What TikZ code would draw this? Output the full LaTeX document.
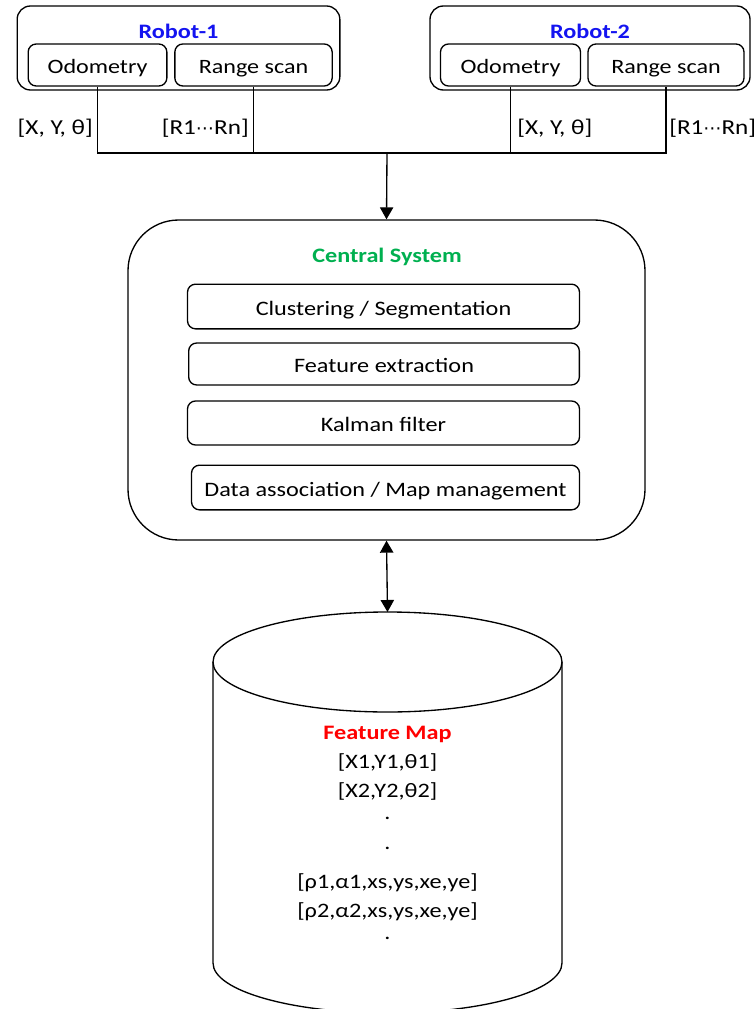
\documentclass[tikz,border=0pt]{standalone}
\usepackage{fontspec}
\setmainfont[FakeStretch=1.18]{Carlito}
\newfontfamily\dotsfont[FakeStretch=1.0,Scale=0.85]{DejaVu Sans}
\usetikzlibrary{arrows.meta}
\definecolor{robotblue}{RGB}{20,20,240}
\definecolor{sysgreen}{RGB}{0,176,80}
\newcommand{\cdotsym}{{\dotsfont ⋯}}
\tikzset{
  frame/.style={draw, line width=1pt, rounded corners=10pt, inner sep=0pt},
  unit/.style={draw, line width=1pt, rounded corners=6pt, inner sep=0pt,
               text height=13.5pt, text depth=0pt,
               minimum height=31.5pt, font=\fontsize{15.3}{17}\selectfont},
  stage/.style={draw, line width=1pt, rounded corners=6pt, inner sep=0pt,
                text height=13pt, text depth=0pt,
                minimum height=32pt, font=\fontsize{15.4}{17}\selectfont},
  title/.style={font=\bfseries\fontsize{15.4}{17}\selectfont},
  sig/.style={font=\fontsize{16}{17}\selectfont, inner sep=0pt},
  wire/.style={line width=1pt},
  tip/.style={-{Triangle[length=9pt,width=10pt]}, line width=1pt},
  tips/.style={{Triangle[length=9pt,width=10pt]}-{Triangle[length=9pt,width=10pt]}, line width=1pt},
  mapline/.style={font=\fontsize{15.4}{17}\selectfont, inner sep=0pt}
}
\begin{document}
\begin{tikzpicture}[x=0.75pt,y=-0.75pt]
\useasboundingbox (0,0) rectangle (755,1009);

% robot frames
\node[frame, minimum width=242pt, minimum height=63pt] (r1) at (178.5,48) {};
\node[title, text=robotblue] (r1t) at (178.5,31) {Robot-1};
\node[unit, minimum width=104pt] (o1) at (97.5,65) {Odometry};
\node[unit, minimum width=118pt] (s1) at (253.5,65) {Range scan};

\node[frame, minimum width=240pt, minimum height=63pt] (r2) at (590,48) {};
\node[title, text=robotblue] (r2t) at (590,31) {Robot-2};
\node[unit, minimum width=105pt] (o2) at (510.5,65) {Odometry};
\node[unit, minimum width=117pt] (s2) at (666,65) {Range scan};

% signal bus
\coordinate (bus) at (387,153);
\draw[wire] (o1.south) -- (o1.south |- bus) -- (s2.south |- bus) -- (s2.south);
\draw[wire] (s1.south) -- (s1.south |- bus);
\draw[wire] (o2.south) -- (o2.south |- bus);

\node[sig, anchor=east] (l1) at (93,128) {[X, Y, θ]};
\node[sig, anchor=east] (l2) at (249,128) {[R1\cdotsym Rn]};
\node[sig, anchor=west] (l3) at (517,128) {[X, Y, θ]};
\node[sig, anchor=west] (l4) at (669,128) {[R1\cdotsym Rn]};

% central system
\node[draw, line width=1pt, rounded corners=38pt, minimum width=387.75pt,
      minimum height=240pt, inner sep=0pt] (cs) at (386.5,380) {};
\node[title, text=sysgreen] (cst) at (387,257) {Central System};
\node[stage, minimum width=294pt, minimum height=33.5pt] (c1) at (383.5,306.5) {Clustering / Segmentation};
\node[stage, minimum width=293pt, minimum height=31.5pt] (c2) at (384,364) {Feature extraction};
\node[stage, minimum width=294pt, minimum height=33pt] (c3) at (383.5,423) {Kalman filter};
\node[stage, minimum width=291pt, minimum height=33.5pt] (c4) at (385.5,487.5) {Data association / Map management};

\draw[tip] (bus) -- (cs.north);

% feature map store
\coordinate (mtop) at (387.5,612);
\draw[line width=1pt] (387.5,662) ellipse [x radius=174.5, y radius=50];
\draw[line width=1pt] (213,662) -- (213,963) arc[start angle=180, end angle=0, x radius=174.5, y radius=50] -- (562,662);
\draw[tips] (cs.south) -- (mtop);

\node[title, text=red] (fm) at (387.5,734) {Feature Map};
\node[mapline] (m1) at (387.5,762) {[X1,Y1,θ1]};
\node[mapline] (m2) at (387.5,791) {[X2,Y2,θ2]};
\node[mapline] (m3) at (387.5,818) {.};
\node[mapline] (m4) at (387.5,848) {.};
\node[mapline] (m5) at (387.5,883) {[ρ1,α1,xs,ys,xe,ye]};
\node[mapline] (m6) at (387.5,912) {[ρ2,α2,xs,ys,xe,ye]};
\node[mapline] (m7) at (387.5,938) {.};
\end{tikzpicture}
\end{document}
